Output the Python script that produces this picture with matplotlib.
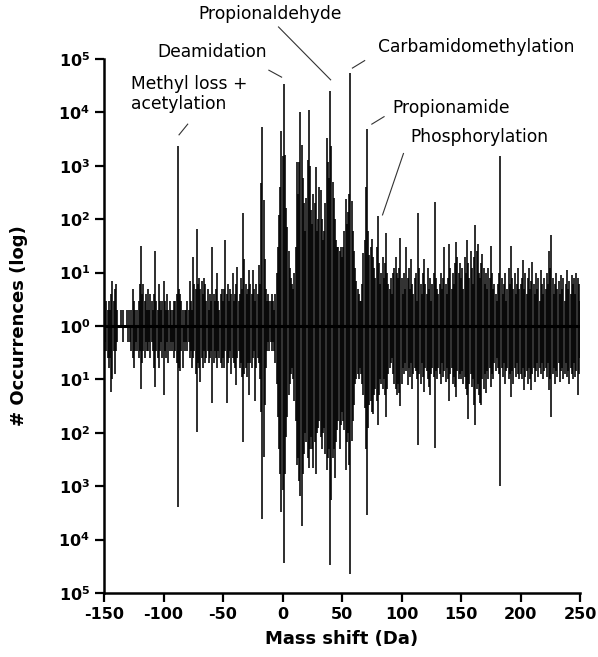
import matplotlib.pyplot as plt
import numpy as np

plt.rcParams["axes.unicode_minus"] = False

# mass shift (Da), one bin per Da
mass = np.arange(-150, 251)

# occurrences above the baseline, in 50 Da blocks
up_m150 = [0, 2, 3, 2, 3, 2, 4, 7, 3, 5, 6, 2, 0, 0, 2, 0, 2, 0, 0, 2,
           0, 2, 0, 2, 5, 3, 2, 0, 2, 3, 6, 32, 4, 6, 3, 4, 2, 5, 2, 4,
           3, 2, 4, 25, 3, 2, 6, 3, 2, 3]
up_m100 = [7, 3, 2, 4, 2, 3, 2, 0, 2, 3, 3, 4, 2300, 5, 4, 3, 2, 0, 2, 2,
           3, 2, 7, 3, 2, 20, 6, 5, 65, 6, 8, 5, 7, 4, 8, 6, 3, 5, 2, 4,
           3, 30, 4, 3, 5, 10, 3, 2, 4, 5]
up_m50 = [3, 5, 40, 4, 6, 3, 5, 4, 10, 3, 4, 6, 13, 3, 4, 8, 5, 130, 18, 6,
          4, 5, 11, 6, 4, 11, 5, 3, 6, 4, 14, 6, 470, 5300, 230, 18, 5, 3, 4, 3,
          3, 4, 3, 2, 4, 10, 30, 120, 400, 4400]
up_0 = [1500, 34000, 1600, 160, 70, 25, 12, 8, 6, 5, 10, 30, 1200, 300, 1200, 10000, 2500, 600, 200, 60,
        250, 1300, 11000, 1000, 150, 80, 300, 200, 950, 60, 100, 400, 350, 100, 40, 60, 200, 3300, 1200, 600,
        25000, 2300, 500, 250, 100, 40, 30, 30, 25, 30]
up_50 = [20, 30, 60, 240, 80, 135, 300, 55000, 220, 60, 25, 12, 7, 5, 4, 3, 3, 6, 23, 40,
         400, 4800, 60, 21, 30, 42, 20, 12, 8, 30, 115, 15, 6, 10, 20, 8, 15, 55, 10, 6,
         5, 8, 4, 10, 12, 20, 10, 8, 12, 45]
up_100 = [8, 4, 10, 5, 30, 8, 12, 5, 18, 6, 4, 8, 10, 3, 130, 12, 6, 4, 10, 18,
          6, 4, 12, 5, 8, 3, 6, 10, 210, 8, 5, 4, 6, 10, 5, 8, 30, 6, 4, 8,
          35, 12, 5, 10, 6, 15, 37, 20, 10, 15]
up_150 = [8, 12, 5, 20, 10, 40, 15, 8, 25, 12, 6, 20, 78, 25, 35, 10, 8, 15, 22, 12,
          6, 10, 5, 12, 8, 32, 10, 5, 6, 4, 3, 6, 10, 1500, 8, 4, 6, 10, 3, 5,
          12, 6, 31, 8, 5, 10, 4, 6, 12, 5]
up_200 = [6, 8, 17, 5, 10, 4, 8, 12, 5, 7, 16, 6, 4, 10, 5, 8, 3, 11, 6, 4,
          8, 5, 10, 6, 25, 12, 51, 8, 4, 6, 10, 5, 7, 4, 9, 5, 8, 3, 6, 11,
          5, 7, 4, 9, 6, 8, 4, 10, 8, 6, 3]

# occurrences below the baseline
dn_m150 = [0, 2, 3, 4, 6, 4, 17, 10, 3, 8, 3, 2, 0, 0, 0, 0, 2, 0, 0, 0,
           2, 0, 2, 3, 4, 6, 3, 2, 3, 4, 3, 15, 5, 3, 4, 2, 3, 3, 2, 4,
           2, 3, 6, 14, 3, 4, 6, 3, 2, 4]
dn_m100 = [20, 3, 4, 2, 5, 3, 2, 3, 2, 4, 3, 5, 2400, 6, 7, 3, 6, 2, 3, 2,
           3, 2, 4, 3, 6, 4, 3, 8, 95, 5, 6, 11, 4, 6, 3, 5, 4, 3, 5, 4,
           3, 28, 5, 3, 4, 6, 3, 4, 5, 6]
dn_m50 = [4, 6, 3, 28, 5, 4, 3, 8, 4, 5, 6, 13, 4, 3, 6, 5, 9, 150, 8, 6,
          9, 5, 20, 5, 6, 4, 3, 25, 6, 4, 5, 10, 40, 4200, 280, 30, 6, 3, 2, 3,
          2, 3, 2, 3, 5, 12, 50, 200, 600, 3000]
dn_0 = [1200, 28000, 600, 120, 50, 20, 12, 8, 6, 10, 25, 60, 400, 300, 800, 1500, 5500, 600, 250, 100,
        150, 300, 450, 200, 120, 200, 450, 150, 600, 100, 80, 60, 120, 200, 100, 80, 250, 500, 300, 200,
        30000, 1800, 300, 200, 700, 150, 90, 60, 200, 70]
dn_50 = [40, 60, 90, 500, 150, 100, 400, 45000, 140, 60, 30, 12, 10, 8, 10, 6, 8, 12, 20, 35,
         200, 3500, 80, 30, 25, 40, 45, 20, 15, 25, 70, 20, 10, 12, 15, 10, 20, 50, 15, 8,
         6, 5, 4, 8, 12, 15, 20, 12, 18, 32]
dn_100 = [12, 6, 8, 5, 7, 13, 6, 9, 5, 15, 8, 6, 7, 10, 170, 8, 12, 5, 9, 17,
          6, 7, 10, 14, 20, 8, 6, 9, 195, 7, 10, 6, 8, 12, 5, 9, 7, 11, 6, 10,
          25, 8, 6, 12, 9, 14, 21, 7, 10, 8]
dn_150 = [10, 7, 12, 9, 15, 20, 54, 12, 8, 14, 10, 30, 70, 15, 12, 20, 28, 30, 10, 15,
          8, 18, 7, 10, 6, 14, 8, 10, 5, 7, 4, 6, 8, 1000, 6, 9, 5, 12, 7, 6,
          10, 8, 21, 7, 12, 6, 9, 5, 8, 10]
dn_200 = [8, 10, 6, 16, 9, 7, 12, 6, 10, 16, 8, 6, 11, 7, 5, 9, 6, 8, 5, 10,
          7, 6, 9, 5, 16, 10, 50, 8, 6, 12, 7, 9, 5, 11, 7, 6, 10, 8, 5, 9,
          7, 12, 6, 8, 10, 5, 9, 7, 20, 8, 4]

up = np.array(up_m150 + up_m100 + up_m50 + up_0 + up_50 + up_100 + up_150 + up_200, dtype=float)
dn = np.array(dn_m150 + dn_m100 + dn_m50 + dn_0 + dn_50 + dn_100 + dn_150 + dn_200, dtype=float)

# log heights, mirrored around 10^0
up_h = np.log10(np.where(up > 0, up, 1))
dn_h = -np.log10(np.where(dn > 0, dn, 1))

fig = plt.figure(figsize=(5.98, 6.57), dpi=100)
ax = fig.add_axes([0.174, 0.0974, 0.796, 0.8128])

ax.vlines(mass, 0, up_h, color="black", lw=1.15)
ax.vlines(mass, 0, dn_h, color="black", lw=1.15)
ax.axhline(0, color="black", lw=2.2)

ax.set_xlim(-150, 250)
ax.set_ylim(-5, 5)
ax.set_xticks(np.arange(-150, 251, 50))
yt = np.arange(-5, 6)
ax.set_yticks(yt)
ax.set_yticklabels([r"$\mathbf{10^{%d}}$" % abs(k) for k in yt])
for lab in ax.get_xticklabels():
    lab.set_fontweight("bold")
ax.tick_params(labelsize=11.5, width=1.6, length=6.5, direction="out")

for s in ["top", "right"]:
    ax.spines[s].set_visible(False)
for s in ["left", "bottom"]:
    ax.spines[s].set_linewidth(1.8)

ax.set_xlabel("Mass shift (Da)", fontsize=13, fontweight="bold", labelpad=6)
ax.set_ylabel("# Occurrences (log)", fontsize=13, fontweight="bold")
ax.yaxis.set_label_coords(-0.16, 0.5)

# annotation texts and leader lines (data coords: Da, log decades)
fs = 12.3
lc = "#333333"
ax.text(-59.4, 5.13, "Deamidation", fontsize=fs, ha="center", va="center")
ax.plot([-11.5, -0.8], [4.79, 4.66], color=lc, lw=0.8, clip_on=False)
ax.text(-10.5, 5.84, "Propionaldehyde", fontsize=fs, ha="center", va="center")
ax.plot([-3.4, 40.4], [5.6, 4.61], color=lc, lw=0.8, clip_on=False)
ax.text(80, 5.22, "Carbamidomethylation", fontsize=fs, ha="left", va="center")
ax.plot([58.7, 69], [4.83, 4.97], color=lc, lw=0.8, clip_on=False)
ax.text(-127.2, 4.35, "Methyl loss +\nacetylation", fontsize=fs, ha="left", va="center",
        linespacing=1.15)
ax.plot([-87, -79.7], [3.58, 3.78], color=lc, lw=0.8, clip_on=False)
ax.text(92.6, 4.08, "Propionamide", fontsize=fs, ha="left", va="center")
ax.plot([75, 85.3], [3.78, 3.92], color=lc, lw=0.8, clip_on=False)
ax.text(107.8, 3.54, "Phosphorylation", fontsize=fs, ha="left", va="center")
ax.plot([84, 101.6], [2.08, 3.23], color=lc, lw=0.8, clip_on=False)

fig.savefig("out.png", dpi=100)
